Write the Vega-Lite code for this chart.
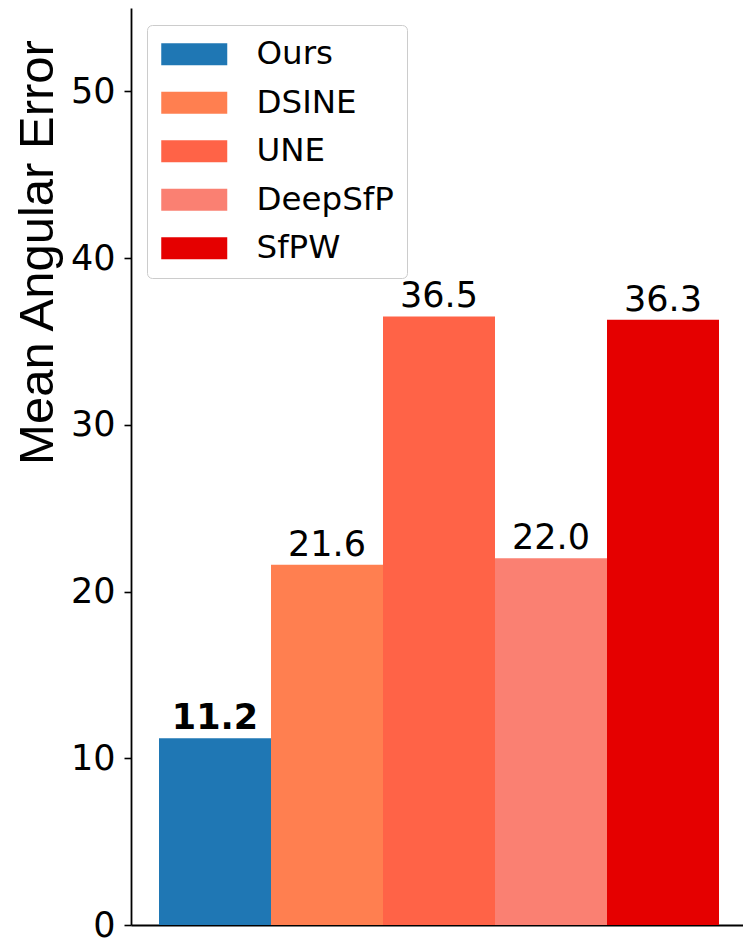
{
  "$schema": "https://vega.github.io/schema/vega-lite/v6.json",
  "autosize": "none",
  "padding": {"left": 131, "top": 8, "right": 0, "bottom": 15},
  "width": 612,
  "height": 917,
  "background": "white",
  "config": {"view": {"stroke": null}},
  "data": {"values": [
    {"method": "Ours", "error": 11.2},
    {"method": "DSINE", "error": 21.6},
    {"method": "UNE", "error": 36.5},
    {"method": "DeepSfP", "error": 22.0},
    {"method": "SfPW", "error": 36.3}
  ]},
  "encoding": {
    "x": {
      "field": "method", "type": "nominal", "sort": null,
      "scale": {"domain": ["Ours", "DSINE", "UNE", "DeepSfP", "SfPW"], "paddingInner": 0, "paddingOuter": 0.23214, "align": 0.5385},
      "axis": {"title": null, "labels": false, "ticks": false, "domainColor": "black", "domainWidth": 1.8, "grid": false}
    },
    "y": {
      "field": "error", "type": "quantitative",
      "scale": {"domain": [0, 55], "nice": false, "zero": true},
      "axis": {
        "title": "Mean Angular Error",
        "titleFont": "Liberation Sans", "titleFontSize": 49, "titleFontWeight": "normal", "titleColor": "black",
        "titleX": -79, "titleY": 244, "titleAngle": -90, "titleBaseline": "alphabetic", "titleAlign": "center",
        "values": [0, 10, 20, 30, 40, 50],
        "labelFont": "DejaVu Sans", "labelFontSize": 35, "labelColor": "black", "labelPadding": 9,
        "tickSize": 7, "tickWidth": 1.6, "tickColor": "black",
        "domainColor": "black", "domainWidth": 1.8, "grid": false
      }
    }
  },
  "layer": [
    {
      "mark": {"type": "bar", "opacity": 1},
      "encoding": {
        "color": {
          "field": "method", "type": "nominal", "sort": null,
          "scale": {"domain": ["Ours", "DSINE", "UNE", "DeepSfP", "SfPW"], "range": ["#1f77b4", "#ff7f50", "#ff6347", "#fa8072", "#e50000"]},
          "legend": {
            "orient": "none", "legendX": 16, "legendY": 17, "title": null,
            "symbolType": "M-2.2,-0.733H2.2V0.733H-2.2Z", "symbolSize": 900, "symbolOffset": 18,
            "symbolStrokeWidth": 0, "symbolOpacity": 1,
            "labelOffset": 46, "labelFont": "DejaVu Sans", "labelFontSize": 32.5, "labelColor": "black",
            "padding": 13, "strokeColor": "#cccccc", "cornerRadius": 5, "fillColor": "white", "rowPadding": 15.5
          }
        }
      }
    },
    {
      "transform": [{"filter": "datum.method !== 'Ours'"}],
      "mark": {"type": "text", "baseline": "alphabetic", "align": "center", "dy": -9, "font": "DejaVu Sans", "fontSize": 35, "fontWeight": "normal", "color": "black"},
      "encoding": {
        "text": {"field": "error", "type": "quantitative", "format": ".1f"}
      }
    },
    {
      "transform": [{"filter": "datum.method === 'Ours'"}],
      "mark": {"type": "text", "baseline": "alphabetic", "align": "center", "dy": -9, "font": "DejaVu Sans", "fontSize": 35, "fontWeight": "bold", "color": "black"},
      "encoding": {
        "text": {"field": "error", "type": "quantitative", "format": ".1f"}
      }
    }
  ]
}
